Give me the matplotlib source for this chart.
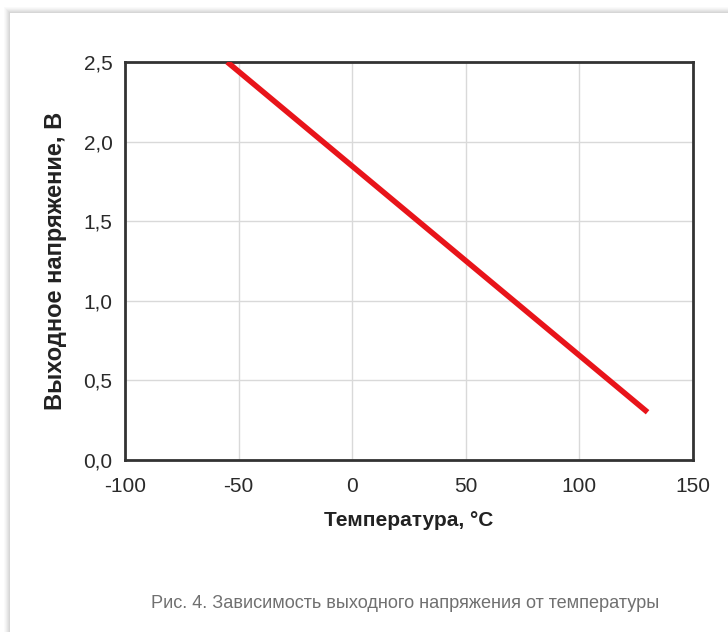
import matplotlib.pyplot as plt
from matplotlib.patches import Rectangle

# data
temp = [-55, 130]
volt = [2.5, 0.3]
xticks = [-100, -50, 0, 50, 100, 150]
xlabels = ['-100', '-50', '0', '50', '100', '150']
yticks = [0.0, 0.5, 1.0, 1.5, 2.0, 2.5]
ylabels = ['0,0', '0,5', '1,0', '1,5', '2,0', '2,5']

plt.rcParams['font.family'] = ['Liberation Sans', 'DejaVu Sans']

fig = plt.figure(figsize=(7.28, 6.32), dpi=100)
W, H = 728, 632

# card with a soft shadow on the top and left edges
shades = ['#fafafa', '#f5f5f5', '#eeeeee', '#e6e6e6', '#dedede', '#d6d6d6']
for k, c in enumerate(shades):
    fig.patches.append(Rectangle(((4 + k) / W, 0), 1, (H - 7 - k) / H,
                                 transform=fig.transFigure, facecolor=c,
                                 edgecolor='none', zorder=-10 + k))
fig.patches.append(Rectangle((10 / W, 0), 1, (H - 13) / H,
                             transform=fig.transFigure, facecolor='white',
                             edgecolor='none', zorder=0))

ax = fig.add_axes([125 / W, 1 - 460 / H, 568 / W, 398 / H])
ax.set_zorder(5)
ax.plot(temp, volt, color='#e8141a', lw=4, solid_capstyle='butt', zorder=3)

ax.set_xlim(-100, 150)
ax.set_ylim(0, 2.5)
ax.set_xticks(xticks)
ax.set_xticklabels(xlabels)
ax.set_yticks(yticks)
ax.set_yticklabels(ylabels)
ax.tick_params(length=0, labelsize=15, colors='#2a2a2a')
ax.tick_params(axis='x', pad=12)
ax.tick_params(axis='y', pad=9)
ax.grid(True, color='#d9d9d9', lw=1)
ax.set_axisbelow(True)
for s in ax.spines.values():
    s.set_color('#333333')
    s.set_linewidth(2)

ax.set_xlabel('Температура, °C', fontsize=15, fontweight='bold', color='#222222', labelpad=11)
ax.set_ylabel('Выходное напряжение, В', fontsize=17, fontweight='bold', color='#222222', labelpad=12)

fig.text(405 / W, 1 - 603 / H, 'Рис. 4. Зависимость выходного напряжения от температуры',
         ha='center', va='center', fontsize=13.1, color='#707070')

fig.savefig('out.png', dpi=100)
